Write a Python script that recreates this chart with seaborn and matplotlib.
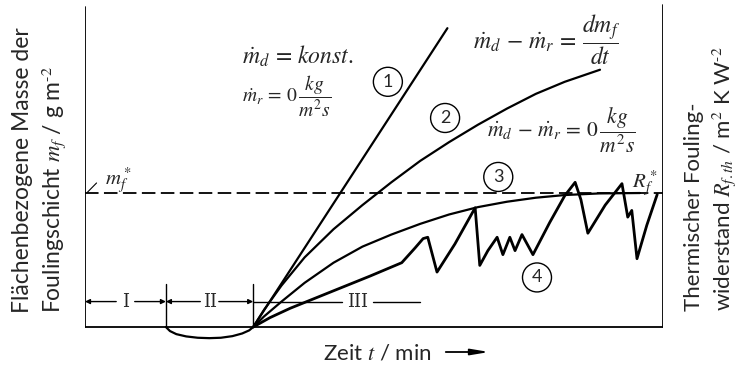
import numpy as np
import pandas as pd
import seaborn as sns
import matplotlib.pyplot as plt
from matplotlib.patches import FancyArrowPatch

sns.set_style("white")
plt.rcParams["font.family"] = ["Lato", "DejaVu Sans"]
plt.rcParams["mathtext.fontset"] = "stix"

# Zeit t (willkürliche Einheiten) und flächenbezogene Masse m_f (1 = m_f*)
t_start = 2.91      # Ende der Induktionsphase
t_phase1 = 1.40     # Grenze Phase I / II
m_star = 1.0

# Kurve 1: linear, m_r = 0
t1 = [2.91, 6.27]
m1 = [0.0, 2.23]

# Kurve 2: abnehmende Steigung
t2 = [2.91, 3.10, 3.40, 3.80, 4.30, 4.80, 5.30, 5.80, 6.30, 6.80, 7.30, 7.80,
      8.30, 8.91]
m2 = [0.00, 0.13, 0.31, 0.52, 0.73, 0.91, 1.08, 1.24, 1.38, 1.51, 1.63, 1.74,
      1.83, 1.92]

# Kurve 3: asymptotisch gegen m_f*
t3 = [2.91, 3.10, 3.40, 3.80, 4.30, 4.80, 5.30, 5.80, 6.30, 6.80, 7.30, 7.80,
      8.30, 8.90, 9.60]
m3 = [0.00, 0.08, 0.19, 0.33, 0.48, 0.60, 0.69, 0.77, 0.84, 0.895, 0.935, 0.965,
      0.985, 0.997, 1.00]

# Kurve 4: sägezahnförmig (Ablösung)
t4 = [2.91, 3.20, 3.55, 4.24, 4.93, 5.48, 5.71, 5.85, 5.93, 6.09, 6.40, 6.75,
      6.83, 6.97, 7.13, 7.23, 7.35, 7.44, 7.56, 7.75, 8.04, 8.30, 8.48, 8.58,
      8.70, 9.00, 9.29, 9.39, 9.46, 9.55, 9.72, 9.90]
m4 = [0.00, 0.07, 0.14, 0.26, 0.38, 0.48, 0.59, 0.66, 0.67, 0.41, 0.62, 0.89,
      0.46, 0.57, 0.67, 0.54, 0.67, 0.57, 0.69, 0.54, 0.78, 0.98, 1.08, 0.95,
      0.70, 0.91, 1.07, 0.82, 0.87, 0.51, 0.76, 0.99]

# Induktionsphase: Mulde unter der Nulllinie
t_dip = [1.40, 1.47, 1.58, 1.75, 1.95, 2.15, 2.35, 2.55, 2.72, 2.84, 2.91]
m_dip = [0.00, -0.030, -0.053, -0.070, -0.080, -0.083, -0.080, -0.068, -0.048,
         -0.025, 0.00]

fig = plt.figure(figsize=(7.37, 3.66), dpi=100)
ax = fig.add_axes([85 / 737, 19 / 366, 578 / 737, 344 / 366])
ax.set_xlim(0, 10)
ax.set_ylim(-0.149, 2.418)
ax.axis("off")

kurven = pd.concat([
    pd.DataFrame({"t": t1, "m": m1, "k": "1"}),
    pd.DataFrame({"t": t2, "m": m2, "k": "2"}),
    pd.DataFrame({"t": t3, "m": m3, "k": "3"}),
    pd.DataFrame({"t": t_dip, "m": m_dip, "k": "dip"}),
])
sns.lineplot(data=kurven, x="t", y="m", units="k", estimator=None, sort=False,
             color="black", lw=1.6, ax=ax, legend=False)
sns.lineplot(x=t4, y=m4, sort=False, estimator=None, color="black", lw=2.0, ax=ax)

# Rahmen
ax.plot([0, 0], [0, 2.39], color="black", lw=1.3)
ax.plot([0, 10], [0, 0], color="black", lw=1.3)
ax.plot([10, 10], [0, 2.40], color="black", lw=1.3)
ax.plot([0, 10], [m_star, m_star], color="black", lw=1.3, dashes=(7.5, 3))

# Phasen I, II, III
y_ph = 0.19
for tx in [t_phase1, t_start]:
    ax.plot([tx, tx], [0, 0.32], color="black", lw=1.0)
pfeil = dict(arrowstyle="-|>", color="black", lw=1.0, mutation_scale=7,
             shrinkA=0, shrinkB=0)
for a, b, lab in [(0, t_phase1, "I"), (t_phase1, t_start, "II")]:
    mid = (a + b) / 2
    ax.annotate("", xy=(a, y_ph), xytext=(mid - 0.16, y_ph), arrowprops=pfeil)
    ax.annotate("", xy=(b, y_ph), xytext=(mid + 0.16, y_ph), arrowprops=pfeil)
    ax.text(mid, y_ph, lab, ha="center", va="center", fontsize=13,
            family="DejaVu Serif")
ax.plot([t_start, 4.45], [y_ph, y_ph], color="black", lw=1.0)
ax.plot([4.98, 5.80], [y_ph, y_ph], color="black", lw=1.0)
ax.text(4.71, y_ph, "III", ha="center", va="center", fontsize=13,
        family="DejaVu Serif")

# Kurvennummern
for tx, my, nr in [(5.24, 1.83, "1"), (6.23, 1.56, "2"), (7.15, 1.12, "3"),
                   (7.82, 0.37, "4")]:
    ax.text(tx, my, nr, ha="center", va="center", fontsize=13,
            bbox=dict(boxstyle="circle,pad=0.36", fc="white", ec="black", lw=1.0))

# Gleichungen
ax.text(2.72, 2.02, r"$\dot{m}_d\,=\,konst.$", ha="left", va="center",
        fontsize=17)
ax.text(2.72, 1.72, r"$\dot{m}_r\,=\,0\,\dfrac{kg}{m^2 s}$", ha="left",
        va="center", fontsize=14)
ax.text(6.71, 2.14, r"$\dot{m}_d\,-\,\dot{m}_r\,=\,\dfrac{dm_f}{dt}$", ha="left",
        va="center", fontsize=17)
ax.text(6.96, 1.47, r"$\dot{m}_d\,-\,\dot{m}_r\,=\,0\,\dfrac{kg}{m^2 s}$",
        ha="left", va="center", fontsize=15.5)
ax.text(9.69, 1.07, r"$R_f^*$", ha="center", va="center", fontsize=15)
ax.text(0.57, 1.09, r"$m_f^*$", ha="center", va="center", fontsize=15)
ax.plot([0.04, 0.20], [1.005, 1.075], color="black", lw=0.8)

# Achsenbeschriftungen
fig.text(40 / 737, 1 - 313 / 366,
         "Flächenbezogene Masse der\nFoulingschicht $m_f$ / g m$^{\\text{-}2}$",
         rotation=90, ha="center", va="bottom", multialignment="left",
         fontsize=16.5, linespacing=1.3)
fig.text(711 / 737, 1 - 311 / 366,
         "Thermischer Fouling-\nwiderstand $R_{f.th}$ / m$^2$ K W$^{\\text{-}2}$",
         rotation=90, ha="center", va="bottom", multialignment="left",
         fontsize=16, linespacing=1.3)
fig.text(323 / 737, 13 / 366, "Zeit $t$ / min", ha="left", va="center",
         fontsize=16)
fig.add_artist(FancyArrowPatch(
    (443 / 737, 14 / 366), (492 / 737, 14 / 366), transform=fig.transFigure,
    arrowstyle="-|>,head_length=0.9,head_width=0.15", mutation_scale=12,
    color="black", lw=1.3))

plt.savefig("out.png", dpi=100)
